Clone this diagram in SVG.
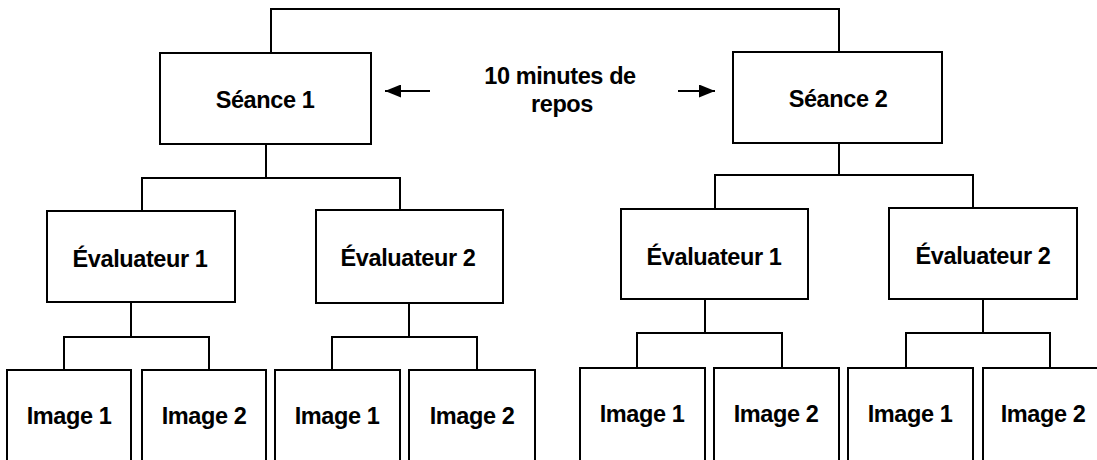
<svg xmlns="http://www.w3.org/2000/svg" width="1097" height="460" viewBox="0 0 1097 460">
  <style>
    .box { fill: #ffffff; stroke: #000000; stroke-width: 2; }
    .lbl { font-family: "Liberation Sans", Arial, sans-serif; font-weight: bold; font-size: 23.5px; letter-spacing: -0.4px; fill: #000000; text-anchor: middle; }
    .wire { fill: none; stroke: #000000; stroke-width: 2; }
    .arrow { fill: none; stroke: #000000; stroke-width: 2; marker-end: url(#head); }
  </style>
  <defs>
    <marker id="head" viewBox="0 0 16 13" refX="16" refY="6.5" markerWidth="8" markerHeight="6.5" markerUnits="strokeWidth" orient="auto">
      <path d="M0,0 L16,6.5 L0,13 Z" fill="#000000"/>
    </marker>
  </defs>
  <rect width="1097" height="460" fill="#ffffff"/>

  <!-- tree connectors -->
  <g id="connectors">
    <!-- session to session link -->
    <path class="wire" d="M271,53 V9 H839 V52"/>
    <!-- session 1 -> evaluators -->
    <path class="wire" d="M266,144 V178 M142,211 V178 H400 V210"/>
    <!-- session 2 -> evaluators -->
    <path class="wire" d="M839,143 V175 M715,209 V175 H973 V208"/>
    <!-- evaluators -> images -->
    <path class="wire" d="M131,302 V337 M64,370 V337 H209 V370"/>
    <path class="wire" d="M409,303 V337 M332,370 V337 H477 V370"/>
    <path class="wire" d="M705,299 V333 M637,368 V333 H782 V368"/>
    <path class="wire" d="M983,299 V333 M906,368 V333 H1050 V368"/>
    <!-- rest period arrows -->
    <path class="arrow" d="M430,91 H385"/>
    <path class="arrow" d="M678,91 H715"/>
  </g>

  <g id="rest-label">
    <text class="lbl" x="560" y="84">10 minutes de</text>
    <text class="lbl" x="562" y="112">repos</text>
  </g>

  <g id="seance-1">
    <rect class="box" x="160" y="53" width="211" height="91"/>
    <text class="lbl" x="265" y="108">Séance 1</text>
  </g>
  <g id="seance-2">
    <rect class="box" x="733" y="52" width="209" height="91"/>
    <text class="lbl" x="838" y="107">Séance 2</text>
  </g>

  <g id="s1-evaluateur-1">
    <rect class="box" x="47" y="211" width="188" height="91"/>
    <text class="lbl" x="140" y="267">Évaluateur 1</text>
  </g>
  <g id="s1-evaluateur-2">
    <rect class="box" x="316" y="210" width="187" height="93"/>
    <text class="lbl" x="408" y="266">Évaluateur 2</text>
  </g>
  <g id="s2-evaluateur-1">
    <rect class="box" x="621" y="209" width="187" height="90"/>
    <text class="lbl" x="714" y="265">Évaluateur 1</text>
  </g>
  <g id="s2-evaluateur-2">
    <rect class="box" x="889" y="208" width="188" height="91"/>
    <text class="lbl" x="983" y="264">Évaluateur 2</text>
  </g>

  <g id="s1-e1-image-1">
    <rect class="box" x="7" y="370" width="124" height="95"/>
    <text class="lbl" x="69" y="424">Image 1</text>
  </g>
  <g id="s1-e1-image-2">
    <rect class="box" x="142" y="370" width="124" height="95"/>
    <text class="lbl" x="204" y="424">Image 2</text>
  </g>
  <g id="s1-e2-image-1">
    <rect class="box" x="275" y="370" width="125" height="95"/>
    <text class="lbl" x="337" y="424">Image 1</text>
  </g>
  <g id="s1-e2-image-2">
    <rect class="box" x="409" y="370" width="126" height="95"/>
    <text class="lbl" x="472" y="424">Image 2</text>
  </g>
  <g id="s2-e1-image-1">
    <rect class="box" x="580" y="368" width="125" height="97"/>
    <text class="lbl" x="642" y="422">Image 1</text>
  </g>
  <g id="s2-e1-image-2">
    <rect class="box" x="714" y="368" width="125" height="97"/>
    <text class="lbl" x="776" y="422">Image 2</text>
  </g>
  <g id="s2-e2-image-1">
    <rect class="box" x="848" y="368" width="125" height="97"/>
    <text class="lbl" x="910" y="422">Image 1</text>
  </g>
  <g id="s2-e2-image-2">
    <rect class="box" x="983" y="368" width="124" height="97"/>
    <text class="lbl" x="1043" y="422">Image 2</text>
  </g>
</svg>
